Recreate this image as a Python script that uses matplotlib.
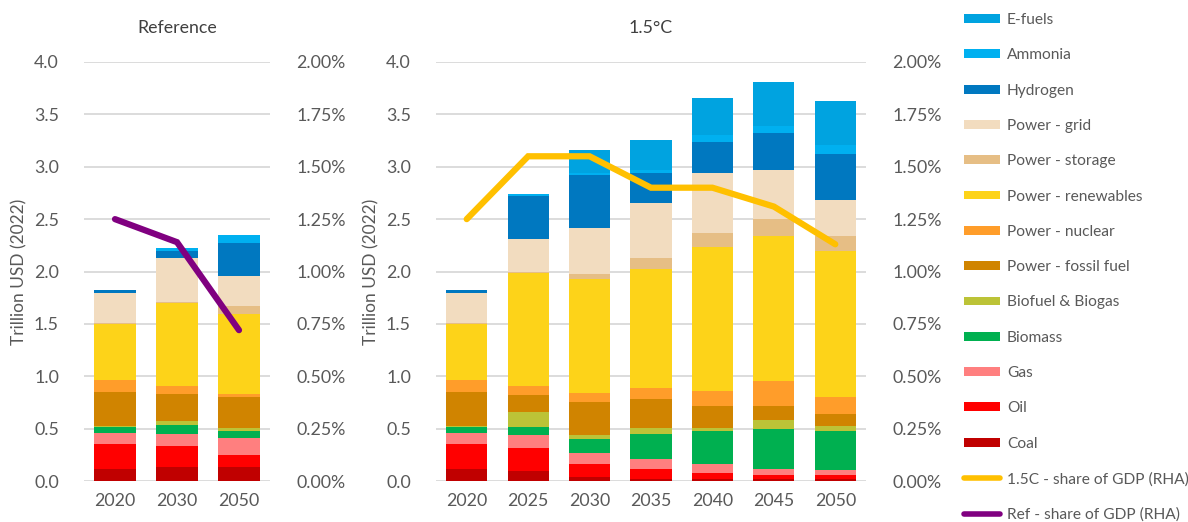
import matplotlib.pyplot as plt
import numpy as np
from matplotlib.patches import Patch
from matplotlib.lines import Line2D
from matplotlib.ticker import FuncFormatter

plt.rcParams['font.family'] = ['Lato', 'DejaVu Sans']

# stacking order, bottom -> top
series = ["Coal", "Oil", "Gas", "Biomass", "Biofuel & Biogas", "Power - fossil fuel",
          "Power - nuclear", "Power - renewables", "Power - storage", "Power - grid",
          "Hydrogen", "Ammonia", "E-fuels"]
colors = ["#C00000", "#FF0000", "#FF7F7F", "#00B050", "#BCC337", "#D08400",
          "#FF9D2A", "#FDD319", "#E6BE85", "#F2DCBF",
          "#0078C0", "#00B0F0", "#00A3E0"]

ref_years = ["2020", "2030", "2050"]
ref_vals = {
    "Coal":                [0.11, 0.134, 0.134],
    "Oil":                 [0.24, 0.20, 0.114],
    "Gas":                 [0.11, 0.118, 0.166],
    "Biomass":             [0.057, 0.08, 0.066],
    "Biofuel & Biogas":    [0.01, 0.044, 0.026],
    "Power - fossil fuel": [0.32, 0.258, 0.296],
    "Power - nuclear":     [0.115, 0.076, 0.026],
    "Power - renewables":  [0.54, 0.79, 0.766],
    "Power - storage":     [0.005, 0.012, 0.077],
    "Power - grid":        [0.29, 0.417, 0.283],
    "Hydrogen":            [0.025, 0.07, 0.321],
    "Ammonia":             [0.0, 0.022, 0.076],
    "E-fuels":             [0.0, 0.0, 0.0],
}
ref_share = [1.25, 1.14, 0.72]  # % of GDP

p15_years = ["2020", "2025", "2030", "2035", "2040", "2045", "2050"]
p15_vals = {
    "Coal":                [0.11, 0.092, 0.041, 0.02, 0.02, 0.02, 0.02],
    "Oil":                 [0.24, 0.223, 0.121, 0.092, 0.056, 0.037, 0.037],
    "Gas":                 [0.11, 0.121, 0.108, 0.095, 0.086, 0.061, 0.051],
    "Biomass":             [0.057, 0.08, 0.134, 0.242, 0.312, 0.382, 0.372],
    "Biofuel & Biogas":    [0.01, 0.146, 0.035, 0.057, 0.032, 0.082, 0.045],
    "Power - fossil fuel": [0.32, 0.162, 0.318, 0.277, 0.213, 0.137, 0.112],
    "Power - nuclear":     [0.115, 0.086, 0.086, 0.105, 0.14, 0.236, 0.165],
    "Power - renewables":  [0.54, 1.08, 1.085, 1.136, 1.378, 1.387, 1.394],
    "Power - storage":     [0.005, 0.01, 0.051, 0.105, 0.131, 0.159, 0.146],
    "Power - grid":        [0.29, 0.315, 0.433, 0.525, 0.569, 0.471, 0.338],
    "Hydrogen":            [0.025, 0.407, 0.512, 0.286, 0.302, 0.347, 0.442],
    "Ammonia":             [0.0, 0.016, 0.02, 0.032, 0.061, 0.07, 0.086],
    "E-fuels":             [0.0, 0.0, 0.216, 0.283, 0.353, 0.417, 0.42],
}
p15_share = [1.25, 1.55, 1.55, 1.40, 1.40, 1.31, 1.13]

txt = "#595959"
grid_c = "#D9D9D9"
fs = 12.8


def draw(ax, years, vals, share, line_color, title):
    x = np.arange(len(years))
    bottom = np.zeros(len(years))
    for name, c in zip(series, colors):
        v = np.array(vals[name])
        ax.bar(x, v, 0.67, bottom=bottom, color=c, edgecolor="none", zorder=2)
        bottom += v
    ax.set_ylim(0, 4.0)
    ax.set_yticks(np.arange(0, 4.01, 0.5))
    ax.yaxis.set_major_formatter(FuncFormatter(lambda v, p: "%.1f" % v))
    ax.set_xlim(-0.5, len(years) - 0.5)
    ax.set_xticks(x)
    ax.set_xticklabels(years)
    ax.grid(axis="y", color=grid_c, lw=1.3, zorder=0)
    ax.set_axisbelow(True)
    for s in ax.spines.values():
        s.set_visible(False)
    ax.tick_params(axis="y", length=0, colors=txt, labelsize=fs, pad=18)
    ax.tick_params(axis="x", length=0, colors=txt, labelsize=fs, pad=9)
    ax.set_ylabel("Trillion USD (2022)", color=txt, fontsize=fs - 0.3, labelpad=5)
    ax.set_title(title, color="#404040", fontsize=fs, pad=21)

    ax2 = ax.twinx()
    ax2.plot(x, np.array(share) / 100, color=line_color, lw=4.5,
             solid_capstyle="round", solid_joinstyle="miter", zorder=3)
    ax2.set_ylim(0, 0.02)
    ax2.set_yticks(np.arange(0, 0.02001, 0.0025))
    ax2.yaxis.set_major_formatter(FuncFormatter(lambda v, p: "%.2f%%" % (v * 100)))
    for s in ax2.spines.values():
        s.set_visible(False)
    ax2.tick_params(length=0, colors=txt, labelsize=fs, pad=19)


fig = plt.figure(figsize=(11.88, 5.22), dpi=100)
ax_ref = fig.add_axes([84 / 1188, 1 - 481 / 522, 186 / 1188, 419 / 522])
ax_p15 = fig.add_axes([436 / 1188, 1 - 481 / 522, 430 / 1188, 419 / 522])

draw(ax_ref, ref_years, ref_vals, ref_share, "#800080", "Reference")
draw(ax_p15, p15_years, p15_vals, p15_share, "#FFC000", "1.5°C")

handles = [Patch(facecolor=c, edgecolor="none") for c in colors[::-1]]
labels = series[::-1]
handles += [Line2D([], [], color="#FFC000", lw=4, solid_capstyle="round"),
            Line2D([], [], color="#800080", lw=4, solid_capstyle="round")]
labels += ["1.5C - share of GDP (RHA)", "Ref - share of GDP (RHA)"]
fig.legend(handles, labels, loc="upper left", bbox_to_anchor=(964 / 1188, 1 - 13 / 522),
           frameon=False, fontsize=11.2, labelcolor=txt, handlelength=2.3,
           handleheight=0.5, handletextpad=0.45, labelspacing=1.37, borderpad=0,
           borderaxespad=0)

fig.savefig("out.png", dpi=100)
